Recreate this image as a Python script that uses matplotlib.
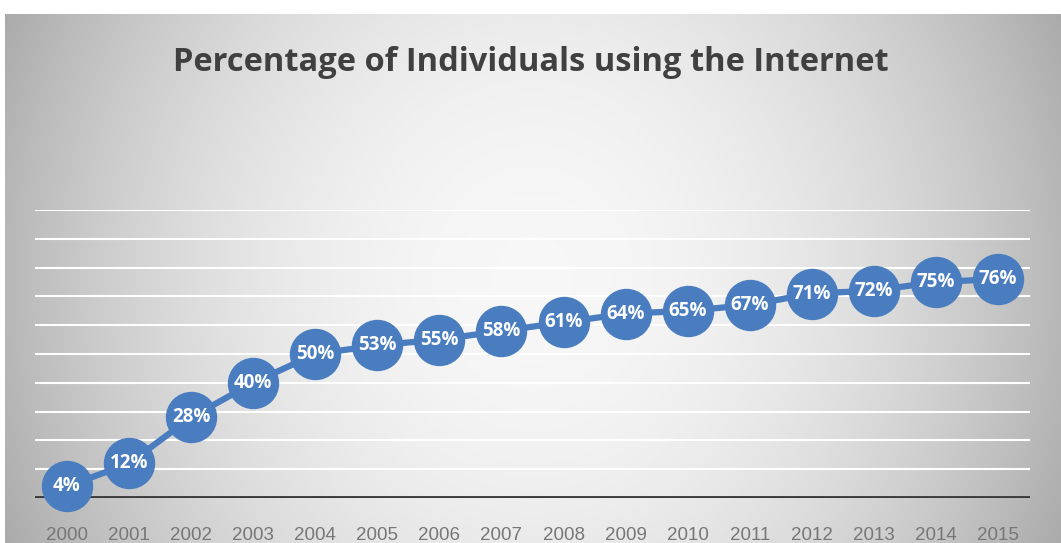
import numpy as np
import matplotlib.pyplot as plt

years = ["2000", "2001", "2002", "2003", "2004", "2005", "2006", "2007",
         "2008", "2009", "2010", "2011", "2012", "2013", "2014", "2015"]
pct = [4, 12, 28, 40, 50, 53, 55, 58, 61, 64, 65, 67, 71, 72, 75, 76]

fig = plt.figure(figsize=(10.61, 5.43), dpi=100)
fig.patch.set_facecolor("white")

# gradient background (light in the middle, gray at the sides)
bg = fig.add_axes([5 / 1061, 0, 1 - 5 / 1061, 529 / 543])
gx, gy = np.meshgrid(np.linspace(-1, 1, 400), np.linspace(-1, 1, 200))
r = np.sqrt(gx ** 2 + (0.45 * gy) ** 2)
shade = 0.97 - 0.25 * np.clip(r, 0, 1.1) ** 2
bg.imshow(np.dstack([shade] * 3), aspect="auto", extent=[0, 1, 0, 1])
bg.axis("off")

ax = fig.add_axes([35 / 1061, 45 / 543, 995 / 1061, 288 / 543])
ax.patch.set_alpha(0)
x = np.arange(len(years))

for v in range(10, 101, 10):
    ax.axhline(v, color="white", lw=1.5, zorder=1)
ax.axhline(0, color="#3a3a3a", lw=3.5, zorder=2)

ax.plot(x, pct, color="#4a7dbf", lw=4.5, marker="o", markersize=36,
        markerfacecolor="#4a7dbf", markeredgecolor="#4a7dbf", zorder=3,
        clip_on=False)
for xi, v in zip(x, pct):
    ax.text(xi, v, f"{v}%", ha="center", va="center", color="white",
            fontsize=13.5, fontweight="bold", family=["Open Sans", "DejaVu Sans"],
            zorder=4)

ax.set_xlim(-0.515, 15.515)
ax.set_ylim(0, 100)
ax.set_xticks(x)
ax.set_xticklabels(years, color="#777777", fontsize=13.5,
                   family=["Liberation Sans Narrow", "Liberation Sans"])
ax.tick_params(axis="x", length=0, pad=21)
ax.set_yticks([])
for s in ax.spines.values():
    s.set_visible(False)

fig.text(0.5, 0.885, "Percentage of Individuals using the Internet",
         ha="center", va="center", fontsize=23.5, fontweight="bold",
         color="#404040", family=["Open Sans", "DejaVu Sans"])

fig.savefig("out.png", dpi=100)
